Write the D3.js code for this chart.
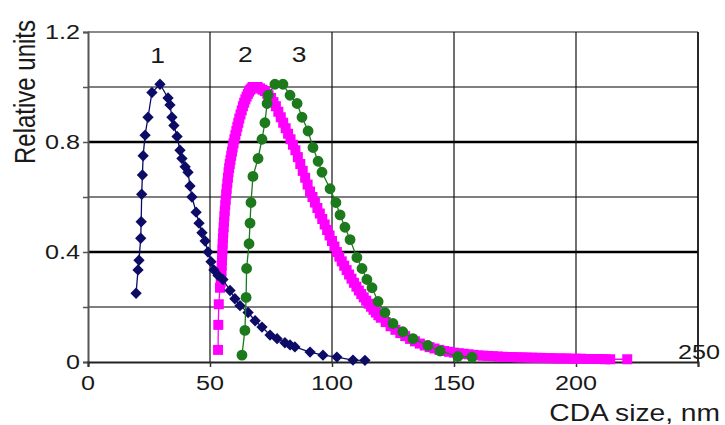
<!DOCTYPE html>
<html>
<head>
<meta charset="utf-8">
<script src="https://cdn.jsdelivr.net/npm/d3@7"></script>
<style>
  body { margin: 0; background: #fff; }
  svg { display: block; font-family: "Liberation Sans", Arial, sans-serif; }
</style>
</head>
<body>
<svg id="Target" width="725" height="425"></svg>
<script>
// curve 1 (navy diamonds)
const series1 = [
  [19.7, 0.25], [20.5, 0.335], [20.9, 0.37], [21.6, 0.45], [21.8, 0.51], [22.0, 0.61],
  [22.3, 0.68], [22.6, 0.75], [23.4, 0.825], [24.6, 0.89], [26.2, 0.98], [29.5, 1.01],
  [32.8, 0.96], [33.6, 0.935], [34.4, 0.89], [35.2, 0.86], [36.5, 0.82], [37.7, 0.77],
  [38.5, 0.74], [39.8, 0.71], [41.0, 0.69], [41.8, 0.64], [42.6, 0.60], [44.3, 0.545],
  [45.5, 0.505], [46.7, 0.47], [48.0, 0.44], [49.2, 0.40], [50.4, 0.365], [51.6, 0.335],
  [53.3, 0.315], [55.3, 0.30], [58.2, 0.26], [60.2, 0.23], [62.3, 0.205], [65.6, 0.18],
  [68.5, 0.15], [71.3, 0.127], [74.6, 0.098], [77.5, 0.085], [80.7, 0.07], [82.8, 0.062],
  [84.8, 0.055], [91.0, 0.036], [96.3, 0.025], [102.0, 0.018], [108.6, 0.007], [113.5, 0.006]
];

// curve 2 (magenta squares, dense)
const series2 = [
  [53.3, 0.044], [53.4, 0.135], [53.6, 0.21], [54.1, 0.27], [54.4, 0.29], [54.6, 0.31],
  [54.7, 0.33], [54.8, 0.35], [54.9, 0.37], [55.0, 0.39], [55.1, 0.41], [55.2, 0.43],
  [55.3, 0.45], [55.45, 0.47], [55.6, 0.49], [55.75, 0.51], [55.9, 0.53], [56.05, 0.55],
  [56.25, 0.57], [56.45, 0.59], [56.65, 0.61], [56.85, 0.63], [57.1, 0.65], [57.35, 0.67],
  [57.6, 0.69], [57.85, 0.705], [58.1, 0.72], [58.4, 0.735], [58.7, 0.75], [59.0, 0.765],
  [59.3, 0.78], [59.65, 0.795], [60.0, 0.81], [60.4, 0.825], [60.8, 0.84], [61.2, 0.855],
  [61.6, 0.87], [62.0, 0.885], [62.5, 0.90], [63.0, 0.915], [63.5, 0.93], [64.0, 0.943],
  [64.5, 0.955], [65.0, 0.965], [65.5, 0.975], [66.0, 0.983], [66.5, 0.99], [67.0, 0.995],
  [67.5, 1.0], [68.5, 1.0], [69.5, 1.0], [70.5, 0.995],
  [71.5, 0.99], [72.5, 0.985], [73.5, 0.975], [74, 0.97], [75, 0.96], [76, 0.945],
  [77, 0.93], [78, 0.91], [79, 0.89], [80, 0.87], [81, 0.85], [82, 0.83], [83, 0.81],
  [84, 0.79], [85, 0.77], [86, 0.745], [87, 0.72], [88, 0.695], [89, 0.67], [90, 0.645],
  [91, 0.62], [92, 0.60], [93, 0.58], [94, 0.56], [95, 0.54], [96, 0.52], [97, 0.50],
  [98, 0.48], [99, 0.46], [100, 0.44], [101, 0.42], [102, 0.40], [103, 0.383], [104, 0.366],
  [105, 0.35], [106, 0.334], [107, 0.318], [108, 0.303], [109, 0.288], [110, 0.274],
  [111, 0.26], [112, 0.247], [113, 0.235], [114, 0.223], [115, 0.212], [116, 0.201],
  [117, 0.19], [118, 0.18], [119, 0.17], [120, 0.161], [122, 0.145], [124, 0.13],
  [126, 0.117], [128, 0.105], [130, 0.094], [132, 0.084], [134, 0.075], [136, 0.067],
  [138, 0.06], [140, 0.054], [142, 0.049], [144, 0.044], [146, 0.04], [148, 0.037],
  [150, 0.034], [152, 0.032], [154, 0.03], [156, 0.028], [158, 0.026], [160, 0.024],
  [162, 0.023], [164, 0.022], [166, 0.021], [168, 0.02], [170, 0.019], [172, 0.018],
  [174, 0.018], [176, 0.017], [178, 0.017], [180, 0.016], [182, 0.016], [184, 0.015],
  [186, 0.015], [188, 0.014], [190, 0.014], [192, 0.013], [194, 0.013], [196, 0.013],
  [198, 0.012], [200, 0.012], [202, 0.012], [204, 0.011], [206, 0.011], [208, 0.011],
  [210, 0.011], [212, 0.01], [214, 0.01], [221, 0.01]
];

// curve 3 (green circles)
const series3 = [
  [63.1, 0.025], [64.3, 0.115], [64.8, 0.235], [65.0, 0.34], [66.0, 0.43], [66.4, 0.505],
  [66.8, 0.58], [67.6, 0.675], [69.7, 0.74], [71.3, 0.81], [72.5, 0.87], [73.4, 0.94],
  [73.8, 0.97], [76.6, 1.01], [79.9, 1.01], [82.8, 0.97], [85.7, 0.94], [87.7, 0.89],
  [90.2, 0.84], [92.2, 0.78], [94.3, 0.73], [95.9, 0.69], [99.2, 0.63], [101.6, 0.58],
  [103.3, 0.535], [105.3, 0.49], [107.4, 0.445], [110.2, 0.38], [112.3, 0.34], [114.3, 0.30],
  [116.4, 0.27], [118.9, 0.22], [121.7, 0.18], [125.0, 0.14], [129.0, 0.11], [133.2, 0.085],
  [139.3, 0.06], [144.3, 0.04], [151.6, 0.02], [157.4, 0.018]
];

const xTicks = [0, 50, 100, 150, 200, 250];
const yTicks = [0, 0.2, 0.4, 0.6, 0.8, 1.0, 1.2];
const yLabels = [0, 0.4, 0.8, 1.2];
// curve numbers placed above the peaks: [label, x, y]
const peakLabels = [["1", 28.5, 1.115], ["2", 64.5, 1.12], ["3", 86.5, 1.12]];

const svg = d3.select("#Target");
const stretch = 1.2; // the picture's text is a bit wider than the font

const x = d3.scaleLinear().domain([0, 250]).range([88, 698]);
const y = d3.scaleLinear().domain([0, 1.2]).range([362, 32]);

// horizontal grid: 0.4 and 0.8 drawn heavier, top edge grey
svg.append("g")
  .selectAll("line")
  .data(yTicks.filter(v => v > 0))
  .enter()
  .append("line")
  .attr("x1", x(0))
  .attr("x2", x(250))
  .attr("y1", d => y(d))
  .attr("y2", d => y(d))
  .attr("stroke", d => (d === 1.2 ? "#8a8a8a" : "#000"))
  .attr("stroke-width", d => (d === 0.4 || d === 0.8 ? 2.6 : d === 1.2 ? 2 : 1.2));

// vertical grid
svg.append("g")
  .selectAll("line")
  .data(xTicks.filter(v => v > 0))
  .enter()
  .append("line")
  .attr("x1", d => x(d))
  .attr("x2", d => x(d))
  .attr("y1", y(1.2))
  .attr("y2", y(0))
  .attr("stroke", "#111")
  .attr("stroke-width", d => (d === 250 ? 1.8 : 1.2));

// axes
const yAxis = svg.append("g")
  .attr("transform", `translate(${x(0)},0)`)
  .call(d3.axisLeft(y).tickValues(yTicks).tickSize(5).tickFormat(""));

const xAxis = svg.append("g")
  .attr("transform", `translate(0,${y(0)})`)
  .call(d3.axisBottom(x).tickValues(xTicks).tickSize(5).tickFormat(""));

yAxis.select(".domain").attr("stroke", "#555").attr("stroke-width", 2);
yAxis.selectAll(".tick line").attr("stroke", "#555").attr("stroke-width", 1.5);
xAxis.select(".domain").attr("stroke", "#222").attr("stroke-width", 2);
xAxis.selectAll(".tick line").attr("stroke", "#333").attr("stroke-width", 1.5);

// tick labels
svg.append("g")
  .selectAll("text")
  .data(yLabels)
  .enter()
  .append("text")
  .attr("transform", d => `translate(80,${y(d) + 7}) scale(${stretch},1)`)
  .attr("text-anchor", "end")
  .attr("font-size", 21)
  .attr("fill", "#1a1a1a")
  .text(d => d);

svg.append("g")
  .selectAll("text")
  .data(xTicks)
  .enter()
  .append("text")
  .attr("transform", d => d === 250
    ? `translate(${x(d) + 1},359) scale(${stretch},1)`
    : `translate(${x(d)},390) scale(${stretch},1)`)
  .attr("text-anchor", "middle")
  .attr("font-size", 21)
  .attr("fill", "#1a1a1a")
  .text(d => d);

// axis titles
svg.append("text")
  .attr("transform", `translate(720,421) scale(${stretch},1)`)
  .attr("text-anchor", "end")
  .attr("font-size", 23.5)
  .attr("fill", "#1a1a1a")
  .text("CDA size, nm");

svg.append("text")
  .attr("transform", `translate(35,92) scale(${stretch},1) rotate(-90)`)
  .attr("text-anchor", "middle")
  .attr("font-size", 24)
  .attr("fill", "#1a1a1a")
  .text("Relative units");

// curves
const line = d3.line()
  .x(d => x(d[0]))
  .y(d => y(d[1]));

const drawSeries = (data, color, shape, size, angle) => {
  const g = svg.append("g");
  g.append("path")
    .datum(data)
    .attr("d", line)
    .attr("fill", "none")
    .attr("stroke", color)
    .attr("stroke-width", 1.3);
  g.selectAll("path.marker")
    .data(data)
    .enter()
    .append("path")
    .attr("class", "marker")
    .attr("d", d3.symbol().type(shape).size(size))
    .attr("transform", d => `translate(${x(d[0])},${y(d[1])}) rotate(${angle})`)
    .attr("fill", color);
};

drawSeries(series2, "#ff00ff", d3.symbolSquare, 100, 0);
drawSeries(series1, "#0c0c66", d3.symbolSquare, 64, 45); // square turned into a diamond
drawSeries(series3, "#1c7a1c", d3.symbolCircle, 92, 0);

// curve numbers
svg.append("g")
  .selectAll("text")
  .data(peakLabels)
  .enter()
  .append("text")
  .attr("transform", d => `translate(${x(d[1])},${y(d[2]) + 8}) scale(${stretch},1)`)
  .attr("text-anchor", "middle")
  .attr("font-size", 22)
  .attr("fill", "#1a1a1a")
  .text(d => d[0]);
</script>
</body>
</html>
